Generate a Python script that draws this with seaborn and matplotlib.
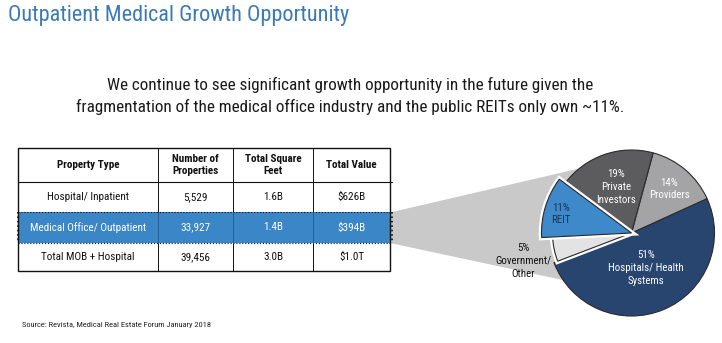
import matplotlib
matplotlib.use("Agg")
import matplotlib.pyplot as plt
from matplotlib.patches import Rectangle, Polygon
import matplotlib.patheffects as pe
import seaborn as sns

# ---- data -------------------------------------------------------------
title = "Outpatient Medical Growth Opportunity"
subtitle = ("We continue to see significant growth opportunity in the future given the\n"
            "fragmentation of the medical office industry and the public REITs only own ~11%.")
source = "Source: Revista, Medical Real Estate Forum January 2018"

col_headers = ["Property Type", "Number of\nProperties", "Total Square\nFeet", "Total Value"]
property_types = ["Hospital/ Inpatient", "Medical Office/ Outpatient", "Total MOB + Hospital"]
num_properties = [5529, 33927, 39456]
square_feet_b = [1.6, 1.4, 3.0]
total_value_b = [626, 394, 1000]

owners = ["Hospitals/ Health\nSystems", "Providers", "Private\nInvestors", "REIT", "Government/\nOther"]
owner_share = [51, 14, 19, 11, 5]
owner_colors = ["#28456f", "#a4a4a6", "#5c5c5e", "#3d89c9", "#e3e3e3"]

# ---- styling ----------------------------------------------------------
sns.set_theme(style="white")
plt.rcParams["font.family"] = ["Roboto Condensed", "Roboto", "DejaVu Sans"]

W, H = 722, 343
fig = plt.figure(figsize=(W / 100, H / 100), dpi=100)
ax = fig.add_axes([0, 0, 1, 1])


def Y(y):
    return H - y


def fmt_value(v):
    return f"${v / 1000:.1f}T" if v >= 1000 else f"${v}B"


# title and subtitle
ax.text(8, Y(15), title, color="#3b7ab8", fontsize=16, va="center", ha="left")
ax.text(350, Y(96), subtitle, color="#1a1a1a", fontsize=12.3, va="center",
        ha="center", linespacing=1.45)
ax.text(22, Y(325), source, color="#222222", fontsize=6, va="center", ha="left")

# funnel from the highlighted row towards the pie
ax.add_patch(Polygon([(390, Y(212.5)), (590, Y(166)), (600, Y(288)), (390, Y(243))],
                     closed=True, facecolor="#c9c9c9", edgecolor="none", zorder=1))

# ---- table ------------------------------------------------------------
col_x = [18, 158, 233, 313, 390]
row_y = [148, 182, 212, 243, 271]
highlight = 1

ax.add_patch(Rectangle((col_x[0], Y(row_y[highlight + 2])), col_x[-1] - col_x[0],
                       row_y[highlight + 2] - row_y[highlight + 1],
                       facecolor="#3a86c6", edgecolor="none", zorder=2))

ax.add_patch(Rectangle((col_x[0], Y(row_y[-1])), col_x[-1] - col_x[0], row_y[-1] - row_y[0],
                       facecolor="none", edgecolor="#111111", lw=1.0, zorder=4))
for yy in [row_y[1], row_y[2], row_y[3]]:
    ls = ":" if yy in (row_y[2], row_y[3]) else "-"
    ax.plot([col_x[0], col_x[-1] + 2], [Y(yy), Y(yy)], color="#111111", lw=0.8, ls=ls, zorder=4)
for xx in col_x[1:-1]:
    ax.plot([xx, xx], [Y(row_y[0]), Y(row_y[2])], color="#111111", lw=0.7, zorder=4)
    ax.plot([xx, xx], [Y(row_y[3]), Y(row_y[4])], color="#111111", lw=0.7, zorder=4)
    ax.plot([xx, xx], [Y(row_y[2]), Y(row_y[3])], color="#1f5a8e", lw=0.6, zorder=4)
for xx in (col_x[0], col_x[-1] + 2):
    ax.plot([xx, xx], [Y(row_y[2]), Y(row_y[3])], color="#111111", lw=1.2, ls=":", zorder=5)

centers_x = [(col_x[i] + col_x[i + 1]) / 2 for i in range(4)]
for cx, head in zip(centers_x, col_headers):
    ax.text(cx, Y((row_y[0] + row_y[1]) / 2), head, fontsize=8, fontweight="bold",
            ha="center", va="center", color="#111111", linespacing=1.25, zorder=6)

for i, ptype in enumerate(property_types):
    cy = Y((row_y[i + 1] + row_y[i + 2]) / 2)
    color = "white" if i == highlight else "#111111"
    cells = [ptype, f"{num_properties[i]:,}", f"{square_feet_b[i]:.1f}B",
             fmt_value(total_value_b[i])]
    for cx, txt in zip(centers_x, cells):
        ax.text(cx, cy, txt, fontsize=8, ha="center", va="center", color=color, zorder=6)

# ---- ownership pie ----------------------------------------------------
pie_cx, pie_cy, pie_r = 631.5, Y(233), 83
wedges, _ = ax.pie(owner_share, colors=owner_colors, startangle=200.9, counterclock=True,
                   center=(pie_cx, pie_cy), radius=pie_r,
                   wedgeprops=dict(edgecolor="#2a2a2a", linewidth=0.8))
for w in wedges:
    w.set_zorder(3)
# REIT slice pulled forward, government slice tucked in
wedges[3].set_radius(90)
wedges[3].set_zorder(3.5)
wedges[4].set_radius(79)
for w in (wedges[3], wedges[4]):
    w.set_path_effects([pe.withStroke(linewidth=4, foreground="white")])

label_pos = [(646, 268), (669, 189), (616, 187), (561, 214), (523, 261)]
label_color = ["white", "white", "white", "#1d3557", "#111111"]
for (lx, ly), name, share, c in zip(label_pos, owners, owner_share, label_color):
    ax.text(lx, Y(ly), f"{share}%\n{name}", fontsize=7.8, ha="center", va="center",
            color=c, linespacing=1.35, zorder=7)

ax.set_xlim(0, W)
ax.set_ylim(0, H)
ax.set_aspect("equal")
ax.axis("off")

fig.savefig("out.png", dpi=100, facecolor="white")
